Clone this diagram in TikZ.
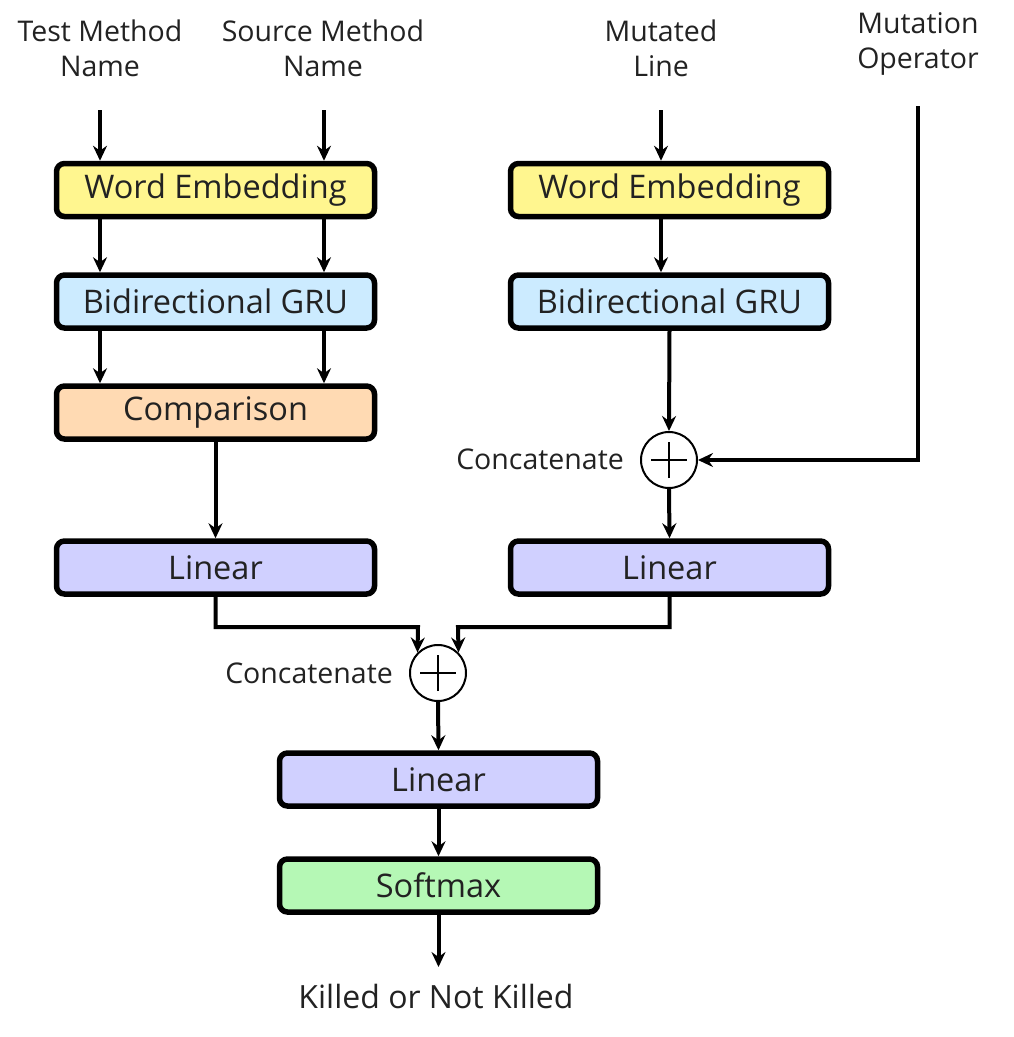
\documentclass[tikz,border=0pt]{standalone}
\usepackage{fontspec}
\setmainfont{Open Sans}
\usetikzlibrary{arrows.meta}
\definecolor{cyel}{HTML}{FFF68F}
\definecolor{cblu}{HTML}{CCEBFF}
\definecolor{corg}{HTML}{FFDAB3}
\definecolor{clav}{HTML}{D0D0FF}
\definecolor{cgrn}{HTML}{B5F8B5}
\definecolor{ctxt}{HTML}{222222}
\begin{document}
\begin{tikzpicture}[x=1pt,y=-1pt,
  blk/.style={draw=black,line width=5.5pt,rounded corners=8pt,minimum width=318pt,minimum height=53pt,inner sep=0pt,font=\fontsize{32.5}{36}\selectfont,text=ctxt},
  lbl/.style={font=\fontsize{28.5}{35}\selectfont,align=center,text=ctxt,inner sep=0pt},
  cat/.style={draw=black,line width=2pt,circle,minimum size=56pt,inner sep=0pt,fill=white},
  arr/.style={line width=4pt,-{Stealth[length=15pt,width=14pt,inset=5pt]}},
  ln/.style={line width=4pt}]
\useasboundingbox (0,0) rectangle (1014,1037);
% inputs
\node[lbl] (tm) at (100,48) {Test Method\\Name};
\node[lbl] (sm) at (323,48) {Source Method\\Name};
\node[lbl] (ml) at (661,48) {Mutated\\Line};
\node[lbl] (mo) at (918,44) {Mutation\\Operator};
\coordinate (tmA) at (100,110);
\coordinate (smA) at (324,110);
\coordinate (mlA) at (661,110);
\coordinate (moA) at (918,106);
% left column
\node[blk,fill=cyel] (we1) at (215.5,190) {Word Embedding};
\node[blk,fill=cblu] (gru1) at (215.5,301.5) {Bidirectional GRU};
\node[blk,fill=corg] (cmp) at (215.5,412.5) {Comparison};
\node[blk,fill=clav] (lin1) at (215.5,567.5) {Linear};
% right column
\node[blk,fill=cyel] (we2) at (669.5,190) {Word Embedding};
\node[blk,fill=cblu] (gru2) at (669.5,301.5) {Bidirectional GRU};
\node[cat] (cat1) at (669,460) {};
\node[lbl,anchor=east] (cl1) at (624,459) {Concatenate};
\node[blk,fill=clav] (lin2) at (669.5,567.5) {Linear};
% bottom
\node[cat] (cat2) at (438,673) {};
\node[lbl,anchor=east] (cl2) at (393,673) {Concatenate};
\node[blk,fill=clav] (lin3) at (438.5,779.5) {Linear};
\node[blk,fill=cgrn] (sfm) at (438.5,885.5) {Softmax};
\node[lbl,font=\fontsize{32}{36}\selectfont] (out) at (436,996) {Killed or Not Killed};
\coordinate (outA) at (438.5,967);
% plus signs
\foreach \c in {cat1,cat2}{
  \draw[line width=2pt] ([xshift=-18pt]\c.center) -- ([xshift=18pt]\c.center);
  \draw[line width=2pt] ([yshift=-18pt]\c.center) -- ([yshift=18pt]\c.center);
}
% arrows left
\draw[arr] (tmA) -- (tmA |- we1.north);
\draw[arr] (smA) -- (smA |- we1.north);
\draw[arr] (tmA |- we1.south) -- (tmA |- gru1.north);
\draw[arr] (smA |- we1.south) -- (smA |- gru1.north);
\draw[arr] (tmA |- gru1.south) -- (tmA |- cmp.north);
\draw[arr] (smA |- gru1.south) -- (smA |- cmp.north);
\draw[arr] (cmp.south) -- (lin1.north);
% arrows right
\draw[arr] (mlA) -- (mlA |- we2.north);
\draw[arr] (mlA |- we2.south) -- (mlA |- gru2.north);
\draw[arr] (gru2.south) -- (cat1.north);
\draw[arr] (moA) -- (moA |- cat1.east) -- (cat1.east);
\draw[arr] (cat1.south) -- (lin2.north);
% merge
\draw[arr] (lin1.south) -- (215.5,627) -- (418,627) -- (cat2.north west);
\draw[arr] (lin2.south) -- (669.5,627) -- (458,627) -- (cat2.north east);
\draw[arr] (cat2.south) -- (lin3.north);
\draw[arr] (lin3.south) -- (sfm.north);
\draw[arr] (sfm.south) -- (outA);
\end{tikzpicture}
\end{document}
